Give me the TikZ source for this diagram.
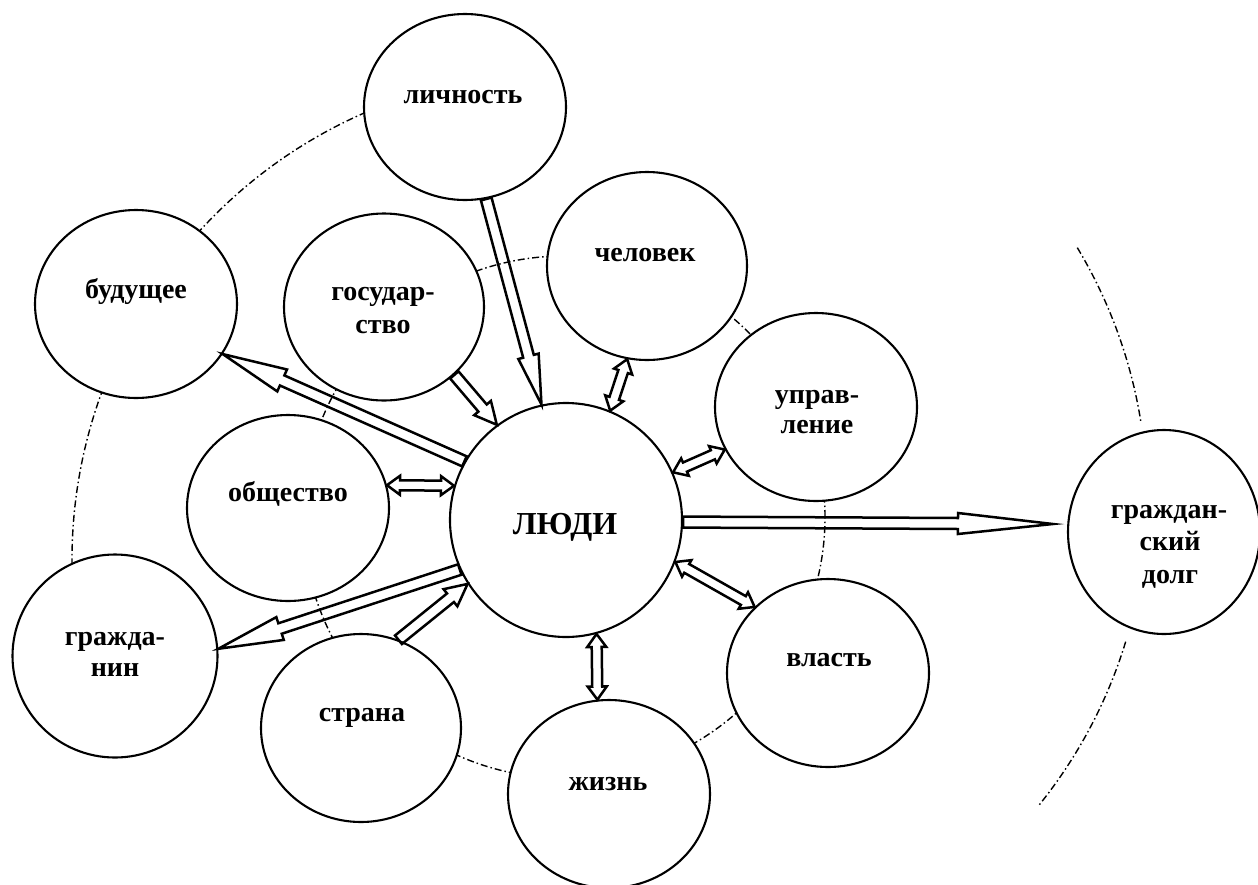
\documentclass[tikz,border=0pt]{standalone}
\usepackage{fontspec}
\setmainfont{Liberation Serif}
\usetikzlibrary{calc,shapes.geometric}
\tikzset{
  bub/.style={ellipse,draw=black,line width=2.1pt,fill=white,inner sep=0pt},
  lab/.style={font=\fontsize{28pt}{33pt}\selectfont\bfseries,inner sep=0pt,anchor=base},
  biglab/.style={font=\fontsize{32pt}{36pt}\selectfont\bfseries,inner sep=0pt,anchor=base},
  harrow/.style={draw=black,line width=2.5pt,line join=miter,miter limit=20},
  ring/.style={draw=black,line width=1.4pt,dash pattern=on 7pt off 3pt on 1.5pt off 3pt}
}
\newcommand{\sarrow}[5]{%
  \path (#1) coordinate (sa-a) (#2) coordinate (sa-b);
  \path ($(sa-b)!#5!(sa-a)$) coordinate (sa-p);
  \draw[harrow] ($(sa-a)!#3!90:(sa-b)$) -- ($(sa-p)!#3!90:(sa-b)$) -- ($(sa-p)!#4!90:(sa-b)$) -- (sa-b)
    -- ($(sa-p)!#4!-90:(sa-b)$) -- ($(sa-p)!#3!-90:(sa-b)$) -- ($(sa-a)!#3!-90:(sa-b)$) -- cycle;}
\newcommand{\darrow}[5]{%
  \path (#1) coordinate (da-a) (#2) coordinate (da-b);
  \path ($(da-a)!#5!(da-b)$) coordinate (da-p) ($(da-b)!#5!(da-a)$) coordinate (da-q);
  \draw[harrow] (da-a) -- ($(da-p)!#4!90:(da-b)$) -- ($(da-p)!#3!90:(da-b)$) -- ($(da-q)!#3!90:(da-b)$)
    -- ($(da-q)!#4!90:(da-b)$) -- (da-b) -- ($(da-q)!#4!-90:(da-b)$) -- ($(da-q)!#3!-90:(da-b)$)
    -- ($(da-p)!#3!-90:(da-b)$) -- ($(da-p)!#4!-90:(da-b)$) -- cycle;}
\begin{document}
\begin{tikzpicture}[x=1pt,y=1pt]
\useasboundingbox (0,0) rectangle (1258,-884);
% dash-dot rings (behind the circles)
\draw[ring] (564,-517) circle[radius=261];
\draw[ring] (560,-560) ++(110:488) arc[start angle=110,end angle=185,radius=488];
\draw[ring] (659,-499) ++(31:488) arc[start angle=31,end angle=9,radius=488];
\draw[ring] (659,-499) ++(-17:488) arc[start angle=-17,end angle=-39,radius=488];
% circles
\node[bub,minimum width=202pt,minimum height=186pt] (lich) at (465,-107) {};
\node[bub,minimum width=202pt,minimum height=188pt] (bud) at (136,-304) {};
\node[bub,minimum width=200pt,minimum height=187pt] (gos) at (384,-307) {};
\node[bub,minimum width=200pt,minimum height=188pt] (chel) at (647,-266) {};
\node[bub,minimum width=202pt,minimum height=188pt] (uprav) at (816,-407) {};
\node[bub,minimum width=202pt,minimum height=186pt] (obsh) at (288,-508) {};
\node[bub,minimum width=205pt,minimum height=203pt] (grazh) at (115,-656) {};
\node[bub,minimum width=200pt,minimum height=188pt] (strana) at (361,-728) {};
\node[bub,minimum width=202pt,minimum height=188pt] (zhizn) at (609,-794) {};
\node[bub,minimum width=202pt,minimum height=188pt] (vlast) at (828,-673) {};
\node[bub,minimum width=192pt,minimum height=204pt] (dolg) at (1164,-532) {};
\node[bub,minimum width=232pt,minimum height=234pt] (ljudi) at (566,-520) {};
% labels
\node[lab] (lich-t) at (463,-103) {личность};
\node[lab] (bud-t) at (136,-298) {будущее};
\node[lab] (gos-t1) at (383,-300) {государ-};
\node[lab] (gos-t2) at (383,-333) {ство};
\node[lab] (chel-t) at (645,-261) {человек};
\node[lab] (uprav-t1) at (817,-403) {управ-};
\node[lab] (uprav-t2) at (817,-433) {ление};
\node[lab] (obsh-t) at (288,-501) {общество};
\node[lab] (grazh-t1) at (115,-645) {гражда-};
\node[lab] (grazh-t2) at (115,-676) {нин};
\node[lab] (strana-t) at (362,-721) {страна};
\node[lab] (zhizn-t) at (608,-790) {жизнь};
\node[lab] (vlast-t) at (829,-666) {власть};
\node[lab] (dolg-t1) at (1169,-518) {граждан-};
\node[lab] (dolg-t2) at (1170,-550) {ский};
\node[lab] (dolg-t3) at (1170,-583) {долг};
\node[biglab] (ljudi-t) at (565,-534) {ЛЮДИ};
% arrows
\coordinate (dolgtip) at ($(dolg.west)+(-14,8)$);
\sarrow{lich.-77}{ljudi.102}{5.5pt}{10.5pt}{50pt}
\sarrow{gos.-44}{ljudi.126}{5.5pt}{11pt}{22pt}
\sarrow{ljudi.150}{bud.-30}{5.5pt}{12pt}{65pt}
\sarrow{ljudi.205}{grazh.4}{5.5pt}{12pt}{65pt}
\sarrow{strana.67}{ljudi.213}{5.5pt}{11pt}{22pt}
\sarrow{ljudi.-1}{dolgtip}{5.5pt}{10.5pt}{95pt}
\darrow{obsh.13}{ljudi.163}{5pt}{9.5pt}{13pt}
\darrow{ljudi.-75}{zhizn.97}{5pt}{9.5pt}{13pt}
\darrow{ljudi.-21}{vlast.138}{5pt}{9.5pt}{13pt}
\darrow{ljudi.24}{uprav.205}{5pt}{9.5pt}{13pt}
\darrow{chel.-102}{ljudi.68}{5pt}{9.5pt}{13pt}
\end{tikzpicture}
\end{document}
